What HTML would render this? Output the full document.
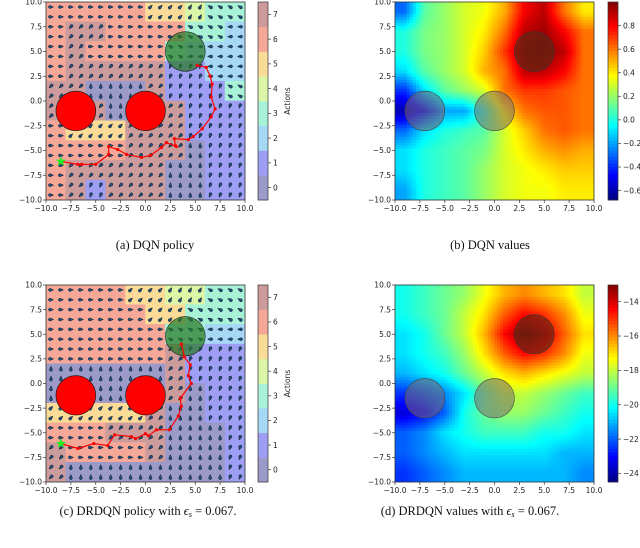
<!DOCTYPE html>
<html><head><meta charset="utf-8"><style>
body{margin:0;background:#fff;}
svg{display:block;}
text{font-family:"DejaVu Sans","Liberation Sans",sans-serif;}
.cap{font-family:"Liberation Serif",serif;font-size:12.5px;fill:#111;}
.tk{font-size:7.5px;fill:#222;}
</style></head><body>
<svg id="fig" width="640" height="548" viewBox="0 0 640 548" xmlns="http://www.w3.org/2000/svg">
<text class="cap" x="155" y="249" text-anchor="middle">(a) DQN policy</text>
<text class="cap" x="490" y="249" text-anchor="middle">(b) DQN values</text>
<text class="cap" x="148" y="515" text-anchor="middle">(c) DRDQN policy with <tspan font-style="italic">ϵ</tspan><tspan font-size="8" font-style="italic" dy="2">s</tspan><tspan dy="-2"> = 0.067.</tspan></text>
<text class="cap" x="470" y="515" text-anchor="middle">(d) DRDQN values with <tspan font-style="italic">ϵ</tspan><tspan font-size="8" font-style="italic" dy="2">s</tspan><tspan dy="-2"> = 0.067.</tspan></text>
</svg>
<script>
// ---------- data ----------
const xTicks=[-10,-7.5,-5,-2.5,0,2.5,5,7.5,10];
const xTickLabels=["−10.0","−7.5","−5.0","−2.5","0.0","2.5","5.0","7.5","10.0"];
const actionLevels=[0,1,2,3,4,5,6,7];
const policyA=[
[6,6,6,6,6,5,5,4,3,3],
[6,7,7,6,6,6,6,3,3,2],
[6,7,6,6,6,6,3,2,2,2],
[6,7,7,7,7,7,1,1,2,2],
[7,7,0,0,0,7,1,1,1,3],
[7,7,7,0,0,7,7,1,1,1],
[6,5,5,5,7,7,7,1,1,1],
[6,6,6,6,7,7,7,0,1,1],
[6,7,7,7,7,7,0,0,1,1],
[6,7,1,7,7,7,0,0,1,1]];
const policyC=[
[6,6,6,6,5,5,4,4,3,3],
[6,6,6,6,6,5,5,3,3,3],
[6,6,6,6,6,6,3,3,2,2],
[6,6,6,6,6,6,7,1,1,1],
[0,0,0,0,0,0,7,1,1,1],
[0,0,0,0,0,0,7,0,1,1],
[5,5,5,5,5,7,0,0,1,1],
[6,6,6,7,7,7,0,0,0,1],
[7,6,6,6,6,7,0,0,0,1],
[7,0,0,0,0,0,0,0,0,1]];
const trajAx=[5.2,6.1,6.5,6.7,6.6,7,6.6,5.7,4.8,4.3,2.9,3,3.1,2.1,1.6,0.5,-0.4,-1.9,-2.8,-3.7,-3.7,-5,-6.4,-6.8,-8.5];
const trajAy=[3.6,3.4,2.5,1.7,0.4,-0.8,-1.6,-2.8,-3.6,-3.9,-3.8,-4.5,-4.6,-4.2,-4.7,-5.5,-5.7,-5.4,-4.9,-4.6,-5.4,-6.4,-6.4,-6.4,-6.1];
const trajCx=[3.6,3.9,4.5,4.3,4.6,3.5,3.6,3.3,2.4,1.1,0.3,0,-1.0,-1.4,-3.1,-3.8,-5.2,-6.8,-8.5];
const trajCy=[4,2.7,1.9,0.8,0,-1.5,-2.3,-3.3,-4.7,-4.7,-5.3,-5.1,-5.6,-5.4,-5.2,-6.3,-6.1,-6.6,-6.1];
const valuesB=[
[-0.3,0.1,0.2,0.3,0.35,0.5,0.8,0.9,0.6,0.4],
[0.0,0.15,0.2,0.3,0.4,0.6,0.9,0.95,0.8,0.6],
[0.0,0.15,0.2,0.3,0.45,0.7,0.95,0.98,0.9,0.6],
[-0.1,0.1,0.2,0.3,0.5,0.6,0.9,0.9,0.8,0.6],
[-0.4,-0.1,0.1,0.2,0.3,0.6,0.7,0.7,0.65,0.6],
[-0.6,-0.45,-0.2,-0.2,0.05,0.4,0.6,0.65,0.65,0.6],
[-0.3,-0.1,0.0,0.05,0.1,0.3,0.45,0.6,0.65,0.6],
[-0.1,0.0,0.05,0.1,0.15,0.3,0.4,0.5,0.55,0.5],
[-0.1,0.0,0.05,0.1,0.2,0.3,0.35,0.4,0.45,0.45],
[-0.2,0.0,0.05,0.1,0.2,0.3,0.35,0.35,0.4,0.4]];
const valuesD=[
[-20,-19.5,-19,-18.5,-17.5,-16.5,-16,-16.5,-17,-18],
[-20,-19.5,-19,-18,-17,-15.5,-14.5,-15,-16,-17.5],
[-20.5,-20,-19,-18,-16.5,-14.5,-13.2,-14,-15.5,-17],
[-20.5,-20,-19.5,-18.5,-17,-15.5,-14.5,-15,-16,-17.5],
[-21,-20.5,-20,-19,-18,-17,-16.5,-17,-17.5,-18],
[-22.5,-22,-21.5,-20.5,-19,-18,-18,-18.5,-19,-19.5],
[-23.5,-23,-22,-20,-19,-18.5,-18.5,-19,-19.5,-20],
[-22,-21.5,-20.5,-20,-19.5,-19.5,-19.5,-20,-20,-20.5],
[-22,-21.5,-21,-20.5,-20.5,-20.5,-20.5,-20.5,-21,-21],
[-22.5,-22,-21.5,-21,-21,-21,-21,-21,-21,-21.5]];
const cbTicksB=[0.8,0.6,0.4,0.2,0.0,-0.2,-0.4,-0.6];
const cbTicksD=[-14,-16,-18,-20,-22,-24];
// ---------- helpers ----------
const NS="http://www.w3.org/2000/svg";
const svg=document.getElementById('fig');
function mk(tag,attrs,parent){const e=document.createElementNS(NS,tag);for(const k in attrs)e.setAttribute(k,attrs[k]);(parent||svg).appendChild(e);return e;}
const actColors=["#9c9ac8","#9e9ef5","#a6d8f6","#a8f2d8","#dcf6a8","#fadc98","#f5a898","#cc9c9c"];
const actAngle=[-90,110,180,-150,-60,-45,0,135];
function jet(t){t=Math.max(0,Math.min(1,t));
 const r=Math.min(4*t-1.5,-4*t+4.5),g=Math.min(4*t-0.5,-4*t+3.5),b=Math.min(4*t+0.5,-4*t+2.5);
 const c=v=>Math.round(255*Math.max(0,Math.min(1,v)));return `rgb(${c(r)},${c(g)},${c(b)})`;}
function axes(x0,y0,x1,y1){return {sx:x=>x0+(x+10)/20*(x1-x0),sy:y=>y0+(10-y)/20*(y1-y0),x0,y0,x1,y1};}
function frame(A,name){
 mk('rect',{x:A.x0,y:A.y0,width:A.x1-A.x0,height:A.y1-A.y0,fill:'none',stroke:'#333','stroke-width':0.8});
 const g=mk('g',{});
 
 
 xTicks.forEach((v,i)=>{
  mk('line',{x1:A.sx(v),x2:A.sx(v),y1:A.y1,y2:A.y1+3,stroke:'#333','stroke-width':0.7},g);
  const t=mk('text',{x:A.sx(v),y:A.y1+11,'text-anchor':'middle',class:'tk'},g);t.textContent=xTickLabels[i];
  mk('line',{x1:A.x0-3,x2:A.x0,y1:A.sy(v),y2:A.sy(v),stroke:'#333','stroke-width':0.7},g);
  const u=mk('text',{x:A.x0-4,y:A.sy(v)+2.7,'text-anchor':'end',class:'tk'},g);u.textContent=xTickLabels[i];
 });
}
function policyPanel(A,grid,tx,ty,obsY,goal,name){
 const g=mk('g',{});
 
 
 const n=grid.length,cw=(A.x1-A.x0)/n,ch=(A.y1-A.y0)/n;
 grid.forEach((row,r)=>row.forEach((a,c)=>{
  mk('rect',{x:A.x0+c*cw-0.3,y:A.y0+r*ch-0.3,width:cw+0.6,height:ch+0.6,fill:actColors[a]},g);
 }));
 const ag=mk('g',{});
 
 
 for(let i=0;i<20;i++)for(let j=0;j<20;j++){
  const x=-9.5+i,y=9.5-j;
  const c=Math.min(9,Math.floor((x+10)/2)),r=Math.min(9,Math.floor((10-y)/2));
  const a=grid[r][c];
  mk('path',{d:'M2.6,0 L-0.5,-1.4 A1.5,1.5 0 1 0 -0.5,1.4 Z',fill:'#1d5080',stroke:'#111','stroke-width':0.45,
   transform:`translate(${A.sx(x)},${A.sy(y)}) rotate(${actAngle[a]})`},ag);
 }
 const rx=A.sx(2)-A.sx(0),ry=A.sy(0)-A.sy(2);
 [-7,0].forEach((ox,k)=>{const e=mk('ellipse',{cx:A.sx(ox),cy:A.sy(obsY),rx:rx,ry:ry,fill:'#ff0000',stroke:'#222','stroke-width':0.7});
  });
 const gl=mk('ellipse',{cx:A.sx(goal[0]),cy:A.sy(goal[1]),rx:rx,ry:ry,fill:'rgba(40,120,40,0.72)',stroke:'#222','stroke-width':0.6});
 
 const pts=tx.map((x,i)=>A.sx(x)+','+A.sy(ty[i])).join(' ');
 const pl=mk('polyline',{points:pts,fill:'none',stroke:'#f00','stroke-width':1.2});
 
 tx.forEach((x,i)=>{if(i<tx.length-1)mk('circle',{cx:A.sx(x),cy:A.sy(ty[i]),r:1.6,fill:'#f00'});});
 const sx=A.sx(tx[tx.length-1]),sy=A.sy(ty[ty.length-1]);let sp=[];
 for(let k=0;k<10;k++){const rr=k%2?2.2:5.2,an=-Math.PI/2+k*Math.PI/5;sp.push((sx+rr*Math.cos(an))+','+(sy+rr*Math.sin(an)));}
 const st=mk('polygon',{points:sp.join(' '),fill:'#22ee22'});
 frame(A,name);
 const cx=258,cwid=10,cb=mk('g',{});
 
 
 const h=(A.y1-A.y0)/8;
 actionLevels.forEach(l=>{
  mk('rect',{x:cx,y:A.y1-(l+1)*h,width:cwid,height:h+0.3,fill:actColors[l]},cb);
  mk('line',{x1:cx+cwid,x2:cx+cwid+3,y1:A.y1-(l+0.5)*h,y2:A.y1-(l+0.5)*h,stroke:'#333','stroke-width':0.7},cb);
  const t=mk('text',{x:cx+cwid+5,y:A.y1-(l+0.5)*h+2.7,class:'tk'},cb);t.textContent=l;
 });
 mk('rect',{x:cx,y:A.y0,width:cwid,height:A.y1-A.y0,fill:'none',stroke:'#333','stroke-width':0.7},cb);
 const lab=mk('text',{x:0,y:0,class:'tk','text-anchor':'middle',transform:`translate(${cx+cwid+22},${(A.y0+A.y1)/2}) rotate(-90)`},cb);lab.textContent='Actions';
}
function valuePanel(A,grid,vmin,vmax,obsY,goal,ticks,name){
 const g=mk('g',{});
 
 
 const N=66,W=A.x1-A.x0,H=A.y1-A.y0,n=grid.length;
 for(let i=0;i<N;i++)for(let j=0;j<N;j++){
  let gx=(i+0.5)/N*n-0.5,gy=(j+0.5)/N*n-0.5;
  gx=Math.max(0,Math.min(n-1.001,gx));gy=Math.max(0,Math.min(n-1.001,gy));
  const c0=Math.floor(gx),r0=Math.floor(gy),fx=gx-c0,fy=gy-r0;
  const v=(grid[r0][c0]*(1-fx)+grid[r0][c0+1]*fx)*(1-fy)+(grid[r0+1][c0]*(1-fx)+grid[r0+1][c0+1]*fx)*fy;
  mk('rect',{x:A.x0+i*W/N-0.2,y:A.y0+j*H/N-0.2,width:W/N+0.4,height:H/N+0.4,fill:jet((v-vmin)/(vmax-vmin))},g);
 }
 const rx=A.sx(2)-A.sx(0),ry=A.sy(0)-A.sy(2);
 [-7,0].forEach((ox,k)=>{const e=mk('ellipse',{cx:A.sx(ox),cy:A.sy(obsY),rx:rx,ry:ry,fill:'rgba(120,100,110,0.55)',stroke:'#444','stroke-width':0.6});
  });
 const gl=mk('ellipse',{cx:A.sx(goal[0]),cy:A.sy(goal[1]),rx:rx,ry:ry,fill:'rgba(90,40,20,0.65)',stroke:'#333','stroke-width':0.6});
 
 frame(A,name);
 const cx=A.x1+14,cwid=10,cb=mk('g',{});
 
 
 const M=60,h=(A.y1-A.y0)/M;
 for(let k=0;k<M;k++)mk('rect',{x:cx,y:A.y0+k*h,width:cwid,height:h+0.4,fill:jet(1-(k+0.5)/M)},cb);
 mk('rect',{x:cx,y:A.y0,width:cwid,height:A.y1-A.y0,fill:'none',stroke:'#333','stroke-width':0.7},cb);
 ticks.forEach(v=>{const y=A.y0+(vmax-v)/(vmax-vmin)*(A.y1-A.y0);
  mk('line',{x1:cx+cwid,x2:cx+cwid+3,y1:y,y2:y,stroke:'#333','stroke-width':0.7},cb);
  const t=mk('text',{x:cx+cwid+5,y:y+2.7,class:'tk'},cb);t.textContent=(v<0?'−':'')+Math.abs(v).toFixed(Number.isInteger(v)&&Math.abs(v)>=1?0:1);});
}
policyPanel(axes(46,2,245,200),policyA,trajAx,trajAy,-1,[4,5],'dqn-policy');
valuePanel(axes(395,2,594,200),valuesB,-0.68,1.0,-1,[4,5],cbTicksB,'dqn-values');
policyPanel(axes(46,285,245,482),policyC,trajCx,trajCy,-1.2,[4,4.8],'drdqn-policy');
valuePanel(axes(395,285,594,482),valuesD,-24.5,-13.03,-1.5,[4,5],cbTicksD,'drdqn-values');
</script>
</body></html>
